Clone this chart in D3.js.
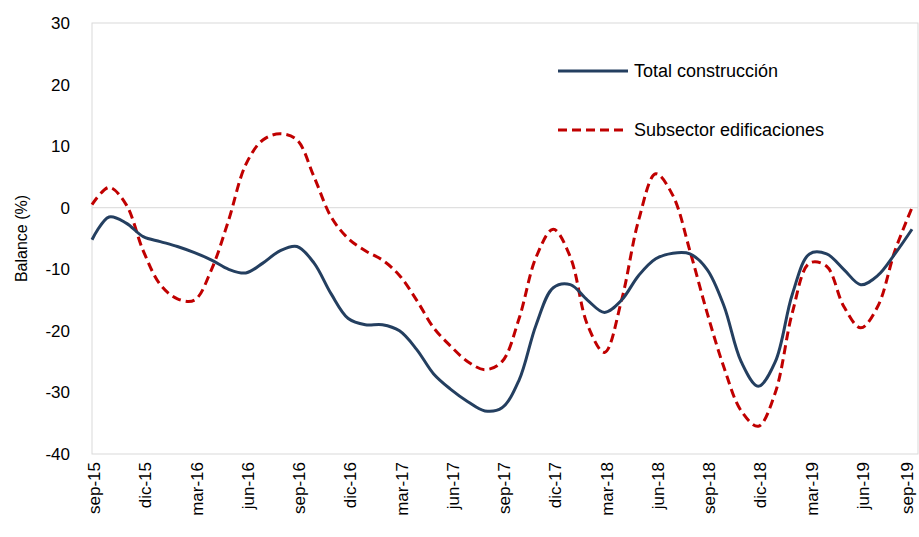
<!DOCTYPE html>
<html><head><meta charset="utf-8">
<script src="https://cdn.jsdelivr.net/npm/d3@7"></script>
<style>body{margin:0;background:#fff;font-family:Arial,"Liberation Sans",sans-serif}</style>
</head><body><svg id="c" width="919" height="537"></svg>
<script>
// quarter labels, one every 3 months
var tickLabels = ["sep-15","dic-15","mar-16","jun-16","sep-16","dic-16","mar-17","jun-17","sep-17","dic-17","mar-18","jun-18","sep-18","dic-18","mar-19","jun-19","sep-19"];
// monthly values sep-15 .. sep-19
var totalConstruccion = [-5.2,-1.5,-2.5,-4.7,-5.5,-6.3,-7.3,-8.5,-10,-10.6,-9,-7,-6.3,-9,-14,-18,-19,-19,-20,-23,-27,-29.5,-31.5,-33,-32.5,-28,-19,-13,-12.5,-15,-17,-15,-11,-8.3,-7.4,-7.5,-10,-16,-25,-29,-25,-14,-7.5,-7.5,-10,-12.5,-11,-7.5,-3.5];
var subsectorEdif = [0.5,3.3,0.5,-7,-12.5,-14.8,-15,-10,-2,7,11,12,11,5,-1.5,-5,-7,-8.5,-11,-15,-19.5,-22.5,-25,-26.3,-25,-18,-8,-3.5,-8,-19,-23.5,-15,-2,5.5,2,-7,-17,-26,-33,-35.5,-30,-17,-9,-9.5,-16,-19.5,-16,-7,0];
var yTicks = [30,20,10,0,-10,-20,-30,-40];

var svg = d3.select("#c");
var L = 92, R = 918, T = 23, B = 454;
var x = d3.scaleLinear().domain([0,48]).range([L,912]);
var y = d3.scaleLinear().domain([-40,30]).range([B,T]);

svg.append("rect").attr("x",L).attr("y",T).attr("width",R-L).attr("height",B-T)
  .attr("fill","none").attr("stroke","#d9d9d9");
svg.append("line").attr("x1",L).attr("x2",R).attr("y1",y(0)).attr("y2",y(0)).attr("stroke","#d9d9d9");

svg.selectAll(".yt").data(yTicks).enter().append("text")
  .attr("x",70).attr("y",function(d){return y(d)+6;}).attr("text-anchor","end")
  .attr("font-size",17).attr("fill","#000").text(function(d){return d;});
svg.append("text").attr("transform","translate(27,"+(y(-5))+") rotate(-90)")
  .attr("text-anchor","middle").attr("font-size",16).text("Balance (%)");

svg.selectAll(".xt").data(tickLabels).enter().append("text")
  .attr("transform",function(d,i){return "translate("+Math.min(x(i*3)+8,913)+",462) rotate(-90)";})
  .attr("text-anchor","end").attr("font-size",17).text(function(d){return d;});

var line = d3.line().x(function(d,i){return x(i);}).y(function(d){return y(d);}).curve(d3.curveCatmullRom.alpha(0.5));
svg.append("path").datum(subsectorEdif).attr("d",line).attr("fill","none")
  .attr("stroke","#c00000").attr("stroke-width",3).attr("stroke-dasharray","9,5");
svg.append("path").datum(totalConstruccion).attr("d",line).attr("fill","none")
  .attr("stroke","#243f60").attr("stroke-width",3);

var lg = [{t:"Total construcción",c:"#243f60",d:null,y:71},{t:"Subsector edificaciones",c:"#c00000",d:"9,5",y:130}];
lg.forEach(function(l){
  svg.append("line").attr("x1",558).attr("x2",628).attr("y1",l.y).attr("y2",l.y)
    .attr("stroke",l.c).attr("stroke-width",3).attr("stroke-dasharray",l.d);
  svg.append("text").attr("x",634).attr("y",l.y+6).attr("font-size",18).text(l.t);
});
</script></body></html>
